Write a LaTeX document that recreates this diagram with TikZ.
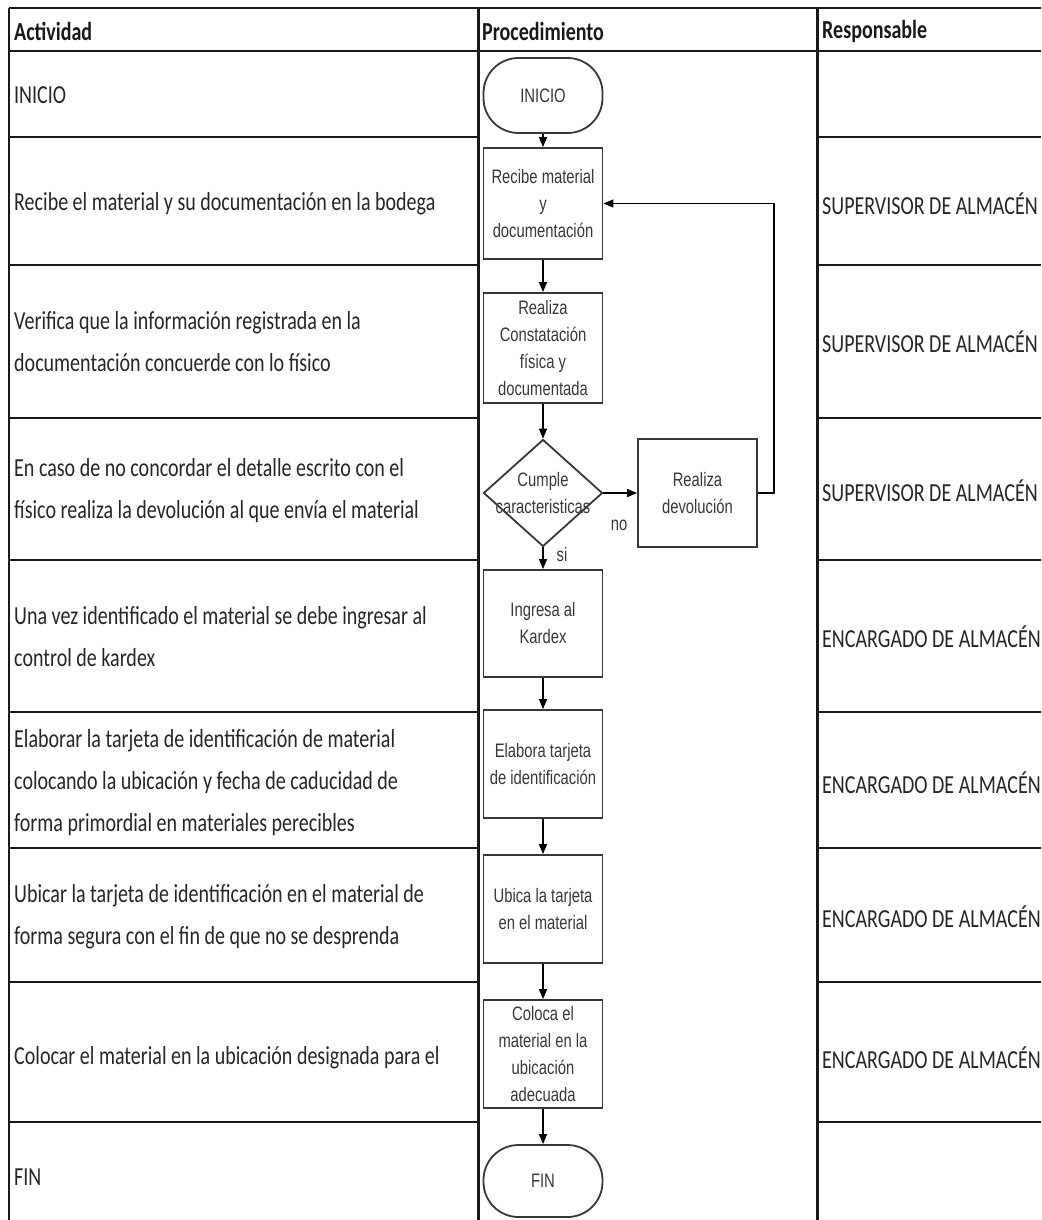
\documentclass[tikz,border=0pt]{standalone}
\usepackage{fontspec}
\setmainfont{Carlito}[FakeStretch=0.77]
\newfontfamily\flowfont{Liberation Sans}[FakeStretch=0.76]
\usetikzlibrary{shapes.geometric,arrows.meta}
\begin{document}
\begin{tikzpicture}[x=1pt,y=-1pt,
  tbl/.style={line width=2.4pt,black!90},
  tblv/.style={line width=3pt,black!90},
  txt/.style={anchor=west,inner sep=0pt,font=\fontsize{26}{42}\selectfont,text=black!85,align=left},
  hdr/.style={anchor=west,inner sep=0pt,font=\fontsize{26}{42}\selectfont\bfseries,text=black!90},
  proc/.style={draw=black!78,line width=1.8pt,fill=white,minimum width=119pt,inner sep=1pt,
    font=\flowfont\fontsize{19.5}{27}\selectfont,text=black!78,align=center},
  term/.style={proc,rounded corners=35pt},
  dec/.style={diamond,draw=black!78,line width=1.8pt,fill=white,minimum width=119pt,minimum height=107pt,inner sep=0pt},
  ftxt/.style={font=\flowfont\fontsize{19.5}{27}\selectfont,text=black!78,align=center,inner sep=0pt},
  arr/.style={draw=black,line width=1.4pt,-{Triangle[length=10pt,width=8pt]}}
]
\useasboundingbox (0,0) rectangle (1041,1220);
\fill[white] (0,0) rectangle (1041,1220);

% table lines
\draw[tbl] (9,8) -- (1041,8);
\draw[tbl] (9,51) -- (1041,51);
\foreach \yy in {137,265,418,560,712,848,982,1122}{
  \draw[tbl] (9,\yy) -- (478,\yy);
  \draw[tbl] (817,\yy) -- (1041,\yy);
}
\draw[tbl] (9,8) -- (9,1220);
\draw[tblv] (478,8) -- (478,1220);
\draw[tblv] (817,8) -- (817,1220);

% headers
\node[hdr] (h1) at (14,31) {Actividad};
\node[hdr] (h2) at (482,31) {Procedimiento};
\node[hdr] (h3) at (822,31) {Responsable};

% activities
\node[txt] (a1) at (14,95) {INICIO};
\node[txt] (a2) at (14,204) {Recibe el material y su documentación en la bodega};
\node[txt] (a3) at (14,342) {Verifica que la información registrada en la\\documentación concuerde con lo físico};
\node[txt] (a4) at (14,491) {En caso de no concordar el detalle escrito con el\\físico realiza la devolución al que envía el material};
\node[txt] (a5) at (14,637) {Una vez identificado el material se debe ingresar al\\control de kardex};
\node[txt] (a6) at (14,783) {Elaborar la tarjeta de identificación de material\\colocando la ubicación y fecha de caducidad de\\forma primordial en materiales perecibles};
\node[txt] (a7) at (14,917) {Ubicar la tarjeta de identificación en el material de\\forma segura con el fin de que no se desprenda};
\node[txt] (a8) at (14,1058) {Colocar el material en la ubicación designada para el};
\node[txt] (a9) at (14,1177) {FIN};

% responsables
\node[txt] (r2) at (822,204) {SUPERVISOR DE ALMACÉN};
\node[txt] (r3) at (822,342) {SUPERVISOR DE ALMACÉN};
\node[txt] (r4) at (822,491) {SUPERVISOR DE ALMACÉN};
\node[txt] (r5) at (822,637) {ENCARGADO DE ALMACÉN};
\node[txt] (r6) at (822,783) {ENCARGADO DE ALMACÉN};
\node[txt] (r7) at (822,917) {ENCARGADO DE ALMACÉN};
\node[txt] (r8) at (822,1058) {ENCARGADO DE ALMACÉN};

% flowchart
\node[term,minimum height=75pt] (ini) at (543,95.5) {INICIO};
\node[proc,minimum height=111pt] (rec) at (543,203.5) {Recibe material\\y\\documentación};
\node[proc,minimum height=110pt] (con) at (543,348) {Realiza\\Constatación\\física y\\documentada};
\node[dec] (dia) at (543,493) {};
\node[ftxt] (diat) at (543,493) {Cumple\\caracteristicas};
\node[proc,minimum height=108pt] (dev) at (697.5,493) {Realiza\\devolución};
\node[proc,minimum height=107pt] (ing) at (543,623.5) {Ingresa al\\Kardex};
\node[proc,minimum height=108pt] (ela) at (543,764) {Elabora tarjeta\\de identificación};
\node[proc,minimum height=108pt] (ubi) at (543,909) {Ubica la tarjeta\\en el material};
\node[proc,minimum height=108pt] (col) at (543,1054) {Coloca el\\material en la\\ubicación\\adecuada};
\node[term,minimum height=72pt] (fin) at (543,1181) {FIN};

\draw[arr] (ini.south) -- (rec.north);
\draw[arr] (rec.south) -- (con.north);
\draw[arr] (con.south) -- (dia.north);
\draw[arr] (dia.east) -- (dev.west);
\draw[arr] (dia.south) -- (ing.north);
\draw[arr] (ing.south) -- (ela.north);
\draw[arr] (ela.south) -- (ubi.north);
\draw[arr] (ubi.south) -- (col.north);
\draw[arr] (col.south) -- (fin.north);
\coordinate (ret) at (774,493);
\draw[arr] (dev.east) -- (ret) |- (rec.east);

\node[ftxt] (lno) at (619,525) {no};
\node[ftxt] (lsi) at (562,555) {si};
\end{tikzpicture}
\end{document}
